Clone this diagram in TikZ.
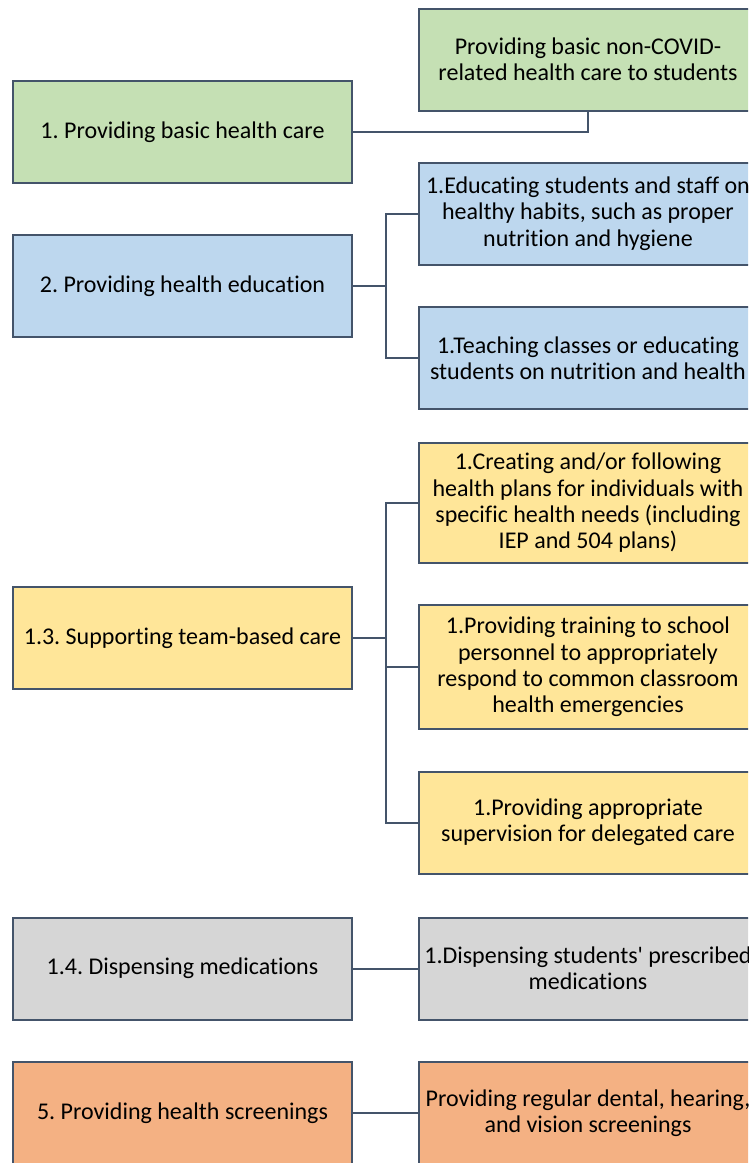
\documentclass[tikz,border=0pt]{standalone}
\usepackage{fontspec}
\setmainfont{Carlito}[Ligatures={NoCommon}]
\usetikzlibrary{positioning, calc}
\definecolor{boxline}{HTML}{44546A}
\definecolor{cgreen}{HTML}{C5E0B4}
\definecolor{cblue}{HTML}{BDD7EE}
\definecolor{cyellow}{HTML}{FFE699}
\definecolor{cgray}{HTML}{D6D6D6}
\definecolor{corange}{HTML}{F4B183}
\frenchspacing

\begin{document}
\begin{tikzpicture}[x=1pt, y=-1pt,
		box/.style={draw=boxline, line width=2pt, align=center, inner sep=0pt, font=\fontsize{24}{26.3}\selectfont},
		lbox/.style={box, minimum width=339pt, minimum height=102pt},
		rbox/.style={box, minimum width=338pt, minimum height=102pt},
		link/.style={draw=boxline, line width=2pt}]
		\useasboundingbox (0,0) rectangle (748,1163);
		\clip (0,0) rectangle (748,1163);
		% 1
		\node[lbox, fill=cgreen] (g1) at (182.5,132) {1. Providing basic health care};
		\node[rbox, fill=cgreen] (g2) at (588,59.5) {Providing basic non-COVID-\\related health care to students};
		\draw[link] (g1.east) -| (g2.south);
		% 2
		\node[lbox, fill=cblue] (b1) at (182.5,286) {2. Providing health education};
		\node[rbox, fill=cblue] (b2) at (588,213.5) {1.Educating students and staff on\\healthy habits, such as proper\\nutrition and hygiene};
		\node[rbox, fill=cblue] (b3) at (588,358) {1.Teaching classes or educating\\students on nutrition and health};
		\draw[link] (b1.east) -- ++(33,0) |- (b2.west);
		\draw[link] (b1.east) -- ++(33,0) |- (b3.west);
		% 3
		\node[lbox, fill=cyellow] (y1) at (182.5,638) {1.3. Supporting team-based care};
		\node[rbox, fill=cyellow, minimum height=120pt] (y2) at (588,503) {1.Creating and/or following\\health plans for individuals with\\specific health needs (including\\IEP and 504 plans)};
		\node[rbox, fill=cyellow, minimum height=124pt] (y3) at (588,667) {1.Providing training to school\\personnel to appropriately\\respond to common classroom\\health emergencies};
		\node[rbox, fill=cyellow] (y4) at (588,822.5) {1.Providing appropriate\\supervision for delegated care};
		\draw[link] (y1.east) -- ++(33,0) |- (y2.west);
		\draw[link] (y1.east) -- ++(33,0) |- (y3.west);
		\draw[link] (y1.east) -- ++(33,0) |- (y4.west);
		% 4
		\node[lbox, fill=cgray] (d1) at (182.5,968.5) {1.4. Dispensing medications};
		\node[rbox, fill=cgray] (d2) at (588,968.5) {1.Dispensing students\textquotesingle{} prescribed\\medications};
		\draw[link] (d1.east) -- (d2.west);
		% 5
		\node[lbox, fill=corange] (o1) at (182.5,1113) {5. Providing health screenings};
		\node[rbox, fill=corange] (o2) at (588,1113) {Providing regular dental, hearing,\\and vision screenings};
		\draw[link] (o1.east) -- (o2.west);
	\end{tikzpicture}
\end{document}
